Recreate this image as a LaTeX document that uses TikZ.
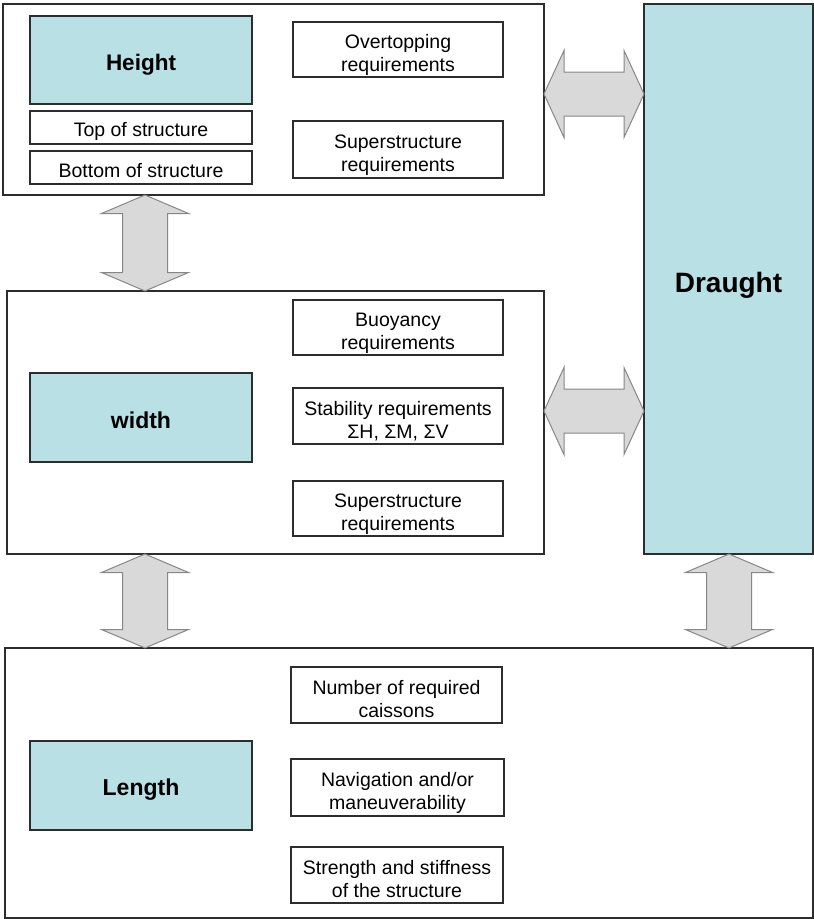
\documentclass[tikz,border=0pt]{standalone}
\usepackage{fontspec}
\setmainfont{Liberation Sans}
\usetikzlibrary{calc}

\definecolor{keyfill}{RGB}{185,224,228}
\definecolor{arrowfill}{RGB}{217,217,217}
\definecolor{arrowline}{RGB}{135,135,135}
\definecolor{boxline}{RGB}{45,45,45}

% strut that lowers a label inside its box
\newcommand\lowered[1]{\rule{0pt}{#1}}

\tikzset{
  panel/.style={draw=boxline, line width=1.3pt, fill=white, inner sep=0pt, outer sep=0pt, anchor=north west},
  keybox/.style={draw=boxline, line width=1.3pt, fill=keyfill, inner sep=0pt, outer sep=0pt, anchor=north west, align=center},
  tbox/.style={draw=boxline, line width=1.2pt, fill=white, inner sep=0pt, outer sep=0pt, anchor=north west, align=center,
               font=\fontsize{19.5}{23}\selectfont},
  blockarrow/.style={draw=arrowline, fill=arrowfill, line width=1pt, line join=miter},
}

% vertical two-headed block arrow, from upper tip #1 to lower tip #2
\newcommand\vblock[2]{%
  \draw[blockarrow] let \p1=(#1), \p2=(#2) in
    (\p1) -- (\x1+43.5pt,\y1-18.5pt) -- (\x1+22.5pt,\y1-18.5pt) -- (\x1+22.5pt,\y2+18.5pt)
    -- (\x1+43.5pt,\y2+18.5pt) -- (\p2) -- (\x1-43.5pt,\y2+18.5pt) -- (\x1-22.5pt,\y2+18.5pt)
    -- (\x1-22.5pt,\y1-18.5pt) -- (\x1-43.5pt,\y1-18.5pt) -- cycle;}
% horizontal two-headed block arrow, from left tip #1 to right tip #2
\newcommand\hblock[2]{%
  \draw[blockarrow] let \p1=(#1), \p2=(#2) in
    (\p1) -- (\x1+20pt,\y1+43.5pt) -- (\x1+20pt,\y1+22pt) -- (\x2-20pt,\y1+22pt)
    -- (\x2-20pt,\y1+43.5pt) -- (\p2) -- (\x2-20pt,\y1-43.5pt) -- (\x2-20pt,\y1-22pt)
    -- (\x1+20pt,\y1-22pt) -- (\x1+20pt,\y1-43.5pt) -- cycle;}

\begin{document}
\begin{tikzpicture}[x=1pt,y=-1pt]
\useasboundingbox[fill=white] (0,0) rectangle (814,919);

% outer panels
\node[panel, minimum width=541, minimum height=191] (f1) at (3,4) {};
\node[panel, minimum width=537, minimum height=263] (f2) at (7,291) {};
\node[panel, minimum width=808, minimum height=270] (f3) at (5,648) {};
\node[keybox, minimum width=169, minimum height=550, font=\bfseries\fontsize{28}{32}\selectfont] (draught) at (644,4) {\lowered{32.5pt}Draught};

% connection points of the block arrows
\coordinate (a1t) at (145,0 |- f1.south);
\coordinate (a1b) at (145,0 |- f2.north);
\coordinate (a2t) at (145,0 |- f2.south);
\coordinate (a2b) at (145,0 |- f3.north);
\coordinate (a3t) at (729,0 |- draught.south);
\coordinate (a3b) at (729,0 |- f3.north);
\coordinate (h1l) at (f1.east |- 0,94);
\coordinate (h1r) at (draught.west |- 0,94);
\coordinate (h2l) at (f2.east |- 0,411);
\coordinate (h2r) at (draught.west |- 0,411);

\vblock{a1t}{a1b}
\vblock{a2t}{a2b}
\vblock{a3t}{a3b}
\hblock{h1l}{h1r}
\hblock{h2l}{h2r}

% height panel
\node[keybox, minimum width=222, minimum height=88, font=\bfseries\fontsize{22.5}{26}\selectfont] (height) at (30,16) {\lowered{26.5pt}Height};
\node[tbox, minimum width=222, minimum height=33] (top) at (30,111) {\lowered{22pt}Top of structure};
\node[tbox, minimum width=222, minimum height=33] (bottom) at (30,151) {\lowered{21pt}Bottom of structure};
\node[tbox, minimum width=210, minimum height=55] (overtop) at (293,22) {\lowered{25pt}Overtopping\\requirements};
\node[tbox, minimum width=210, minimum height=57] (super1) at (293,121) {\lowered{25pt}Superstructure\\requirements};

% width panel
\node[keybox, minimum width=222, minimum height=89, font=\bfseries\fontsize{23}{26}\selectfont] (width) at (30,373) {\lowered{23pt}width};
\node[tbox, minimum width=210, minimum height=55] (buoy) at (293,300) {\lowered{25pt}Buoyancy\\requirements};
\node[tbox, minimum width=210, minimum height=56] (stab) at (293,388) {\lowered{25pt}Stability requirements\\ΣH, ΣM, ΣV};
\node[tbox, minimum width=210, minimum height=55] (super2) at (293,481) {\lowered{25pt}Superstructure\\requirements};

% length panel
\node[keybox, minimum width=222, minimum height=89, font=\bfseries\fontsize{23}{26}\selectfont] (length) at (30,741) {\lowered{25pt}Length};
\node[tbox, minimum width=211, minimum height=56] (caissons) at (291,667) {\lowered{23pt}Number of required\\caissons};
\node[tbox, minimum width=213, minimum height=57] (navig) at (291,759) {\lowered{25pt}Navigation and/or\\maneuverability};
\node[tbox, minimum width=212, minimum height=56] (strength) at (291,847) {\lowered{23pt}Strength and stiffness\\of the structure};
\end{tikzpicture}
\end{document}
